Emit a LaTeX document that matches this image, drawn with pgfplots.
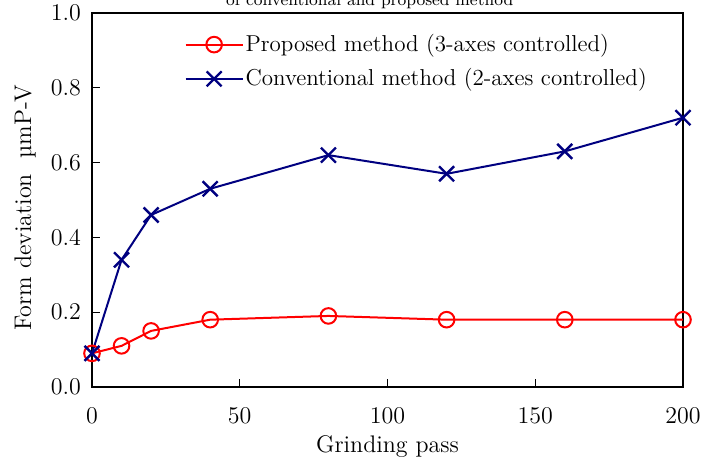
\documentclass[border=0pt]{standalone}
\usepackage{pgfplots}
\pgfplotsset{compat=1.18}
\usetikzlibrary{calc}
\definecolor{propred}{RGB}{255,0,0}
\definecolor{convblue}{RGB}{0,0,128}

\begin{document}
\begin{tikzpicture}
\begin{axis}[
    name=ax,
    scale only axis,
    width=295.5pt, height=187pt,
    xmin=0, xmax=200, ymin=0, ymax=1,
    xtick={0,50,...,200},
    ytick={0,0.2,...,1.0},
    yticklabel style={xshift=-2pt, /pgf/number format/fixed,
        /pgf/number format/fixed zerofill, /pgf/number format/precision=1},
    tick pos=left,
    tick align=inside,
    major tick length=4pt,
    tick style={black, line width=0.6pt},
    axis line style={line width=1.1pt},
    tick label style={font=\fontsize{12}{14}\selectfont},
    xticklabel style={yshift=-7pt},
    label style={font=\fontsize{12}{14}\selectfont},
    xlabel={Grinding pass},
    xlabel style={at={(axis description cs:0.5,-0.174)}, anchor=base},
    ylabel={Form deviation\ \ µmP-V},
    ylabel style={at={(axis description cs:-0.113,0.48)}, anchor=center},
    legend style={at={(axis description cs:0.146,0.965)}, anchor=north west,
        draw=none, fill=none, font=\fontsize{11.5}{13}\selectfont, row sep=3pt,
        nodes={inner xsep=1pt}},
    legend cell align=left,
    legend image code/.code={
        \draw[mark repeat=2, mark phase=2] plot coordinates {(0cm,0cm) (0.5cm,0cm) (1cm,0cm)};},
]
\addplot[propred, line width=1pt, mark=o, mark size=3.9pt,
    mark options={fill=white, line width=1pt}]
    coordinates {(0,0.09) (10,0.11) (20,0.15) (40,0.18) (80,0.19) (120,0.18) (160,0.18) (200,0.18)};
\addplot[convblue, line width=1pt, mark=x, mark size=5.3pt,
    mark options={line width=1.2pt}]
    coordinates {(0,0.09) (10,0.34) (20,0.46) (40,0.53) (80,0.62) (120,0.57) (160,0.63) (200,0.72)};
\legend{Proposed method (3-axes controlled), Conventional method (2-axes controlled)}
\end{axis}
% title line that the reference shows cut off at the top edge
\node[anchor=base, font=\fontsize{8.5}{10}\selectfont]
    at ($(ax.north)+(-8.9pt,4pt)$) {of conventional and proposed method};
\pgfresetboundingbox
\path[use as bounding box] ($(ax.south west)+(-46pt,-37pt)$) rectangle ($(ax.north east)+(15pt,6.5pt)$);
\end{tikzpicture}
\end{document}
